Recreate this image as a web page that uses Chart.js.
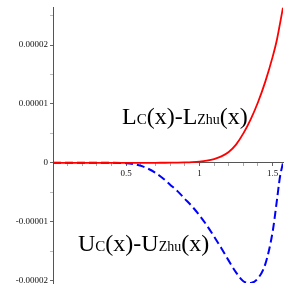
<!DOCTYPE html>
<html>
<head>
<meta charset="utf-8">
<script src="https://cdn.jsdelivr.net/npm/chart.js@4.4.1/dist/chart.umd.min.js"></script>
<style>
  html, body { margin: 0; padding: 0; background: #fff; }
  #wrap { width: 292px; height: 291px; }
</style>
</head>
<body>
<div id="wrap"><canvas id="diffChart" width="292" height="291"></canvas></div>
<script>
// sample points along x (0 .. pi/2)
const xValues = [0, 0.1, 0.2, 0.3, 0.4, 0.5, 0.55, 0.6, 0.65, 0.7, 0.75, 0.8, 0.85, 0.9, 0.95,
  1.0, 1.05, 1.1, 1.15, 1.2, 1.25, 1.3, 1.35, 1.4, 1.45, 1.5, 1.53, 1.55, 1.5708];

// L_C(x) - L_Zhu(x), in units of 1e-5
const lowerDiff = [0, 0, 0, 0, 0, 0, 0, 0, 0.001, 0.001, 0.002, 0.003, 0.005, 0.008, 0.013,
  0.022, 0.038, 0.065, 0.11, 0.185, 0.31, 0.5, 0.74, 1.03, 1.38, 1.8, 2.1, 2.36, 2.64];

// U_C(x) - U_Zhu(x), in units of 1e-5
const upperDiff = [0, 0, 0, 0, 0, -0.005, -0.02, -0.05, -0.1, -0.17, -0.26, -0.37, -0.48, -0.61, -0.74,
  -0.89, -1.06, -1.25, -1.45, -1.66, -1.86, -2.01, -2.04, -1.96, -1.72, -1.17, -0.62, -0.24, 0];

const xTicks = [0.1, 0.2, 0.3, 0.4, 0.5, 0.6, 0.7, 0.8, 0.9, 1, 1.1, 1.2, 1.3, 1.4, 1.5];
const xTickLabels = { 0.5: "0.5", 1: "1", 1.5: "1.5" };
const yTicks = [-2e-5, -1.5e-5, -1e-5, -0.5e-5, 0, 0.5e-5, 1e-5, 1.5e-5, 2e-5, 2.5e-5];
const yTickLabels = ["-0.00002", "", "-0.00001", "", "0", "", "0.00001", "", "0.00002", ""];

const SERIF = "'Liberation Serif', 'DejaVu Serif', serif";

function toPoints(ys) {
  return xValues.map((x, i) => ({ x: x, y: ys[i] * 1e-5 }));
}

// draws the two curve labels with small subscripts
const curveLabels = {
  id: "curveLabels",
  afterDraw(chart) {
    const ctx = chart.ctx;
    function drawRuns(x, y, runs) {
      ctx.save();
      ctx.fillStyle = "#000";
      ctx.textBaseline = "alphabetic";
      ctx.textAlign = "left";
      runs.forEach(r => {
        ctx.font = r[1] + "px " + SERIF;
        ctx.fillText(r[0], x, y);
        x += ctx.measureText(r[0]).width;
      });
      ctx.restore();
    }
    drawRuns(122, 124, [["L", 24], ["C", 15], ["(x)-L", 24], ["Zhu", 14], ["(x)", 24]]);
    drawRuns(78, 251, [["U", 24], ["C", 15], ["(x)-U", 24], ["Zhu", 14], ["(x)", 24]]);
  }
};

new Chart(document.getElementById("diffChart").getContext("2d"), {
  type: "line",
  data: {
    datasets: [
      {
        label: "Lc-LZhu",
        data: toPoints(lowerDiff),
        borderColor: "#ff0000",
        borderWidth: 1.8,
        pointRadius: 0,
        cubicInterpolationMode: "monotone"
      },
      {
        label: "Uc-UZhu",
        data: toPoints(upperDiff),
        borderColor: "#0000ff",
        borderWidth: 2,
        borderDash: [8, 4],
        pointRadius: 0,
        cubicInterpolationMode: "monotone"
      }
    ]
  },
  options: {
    responsive: false,
    animation: false,
    layout: { padding: { left: 0, right: 9, top: 7, bottom: 8 } },
    plugins: {
      legend: { display: false },
      tooltip: { enabled: false }
    },
    scales: {
      x: {
        type: "linear",
        position: { y: 0 },
        min: 0,
        max: Math.PI / 2,
        afterBuildTicks: scale => { scale.ticks = xTicks.map(v => ({ value: v })); },
        ticks: {
          autoSkip: false,
          maxRotation: 0,
          padding: 2,
          color: "#111",
          font: { family: SERIF, size: 9 },
          callback: v => xTickLabels[Math.round(v * 10) / 10] || ""
        },
        grid: {
          drawOnChartArea: false,
          tickLength: 3,
          color: ctx => (ctx.tick && [0.5, 1, 1.5].includes(Math.round(ctx.tick.value * 10) / 10)) ? "#666" : "#aaa"
        },
        border: { color: "#555", width: 1 }
      },
      y: {
        type: "linear",
        min: -2.04e-5,
        max: 2.64e-5,
        afterBuildTicks: scale => { scale.ticks = yTicks.map(v => ({ value: v })); },
        afterFit: scale => { scale.width = 53; },
        ticks: {
          autoSkip: false,
          padding: 2,
          color: "#111",
          font: { family: SERIF, size: 9 },
          callback: (v, i) => yTickLabels[i]
        },
        grid: {
          drawOnChartArea: false,
          tickLength: 3,
          color: ctx => (ctx.tick && yTickLabels[ctx.index]) ? "#666" : "#bbb"
        },
        border: { color: "#555", width: 1 }
      }
    }
  },
  plugins: [curveLabels]
});
</script>
</body>
</html>
